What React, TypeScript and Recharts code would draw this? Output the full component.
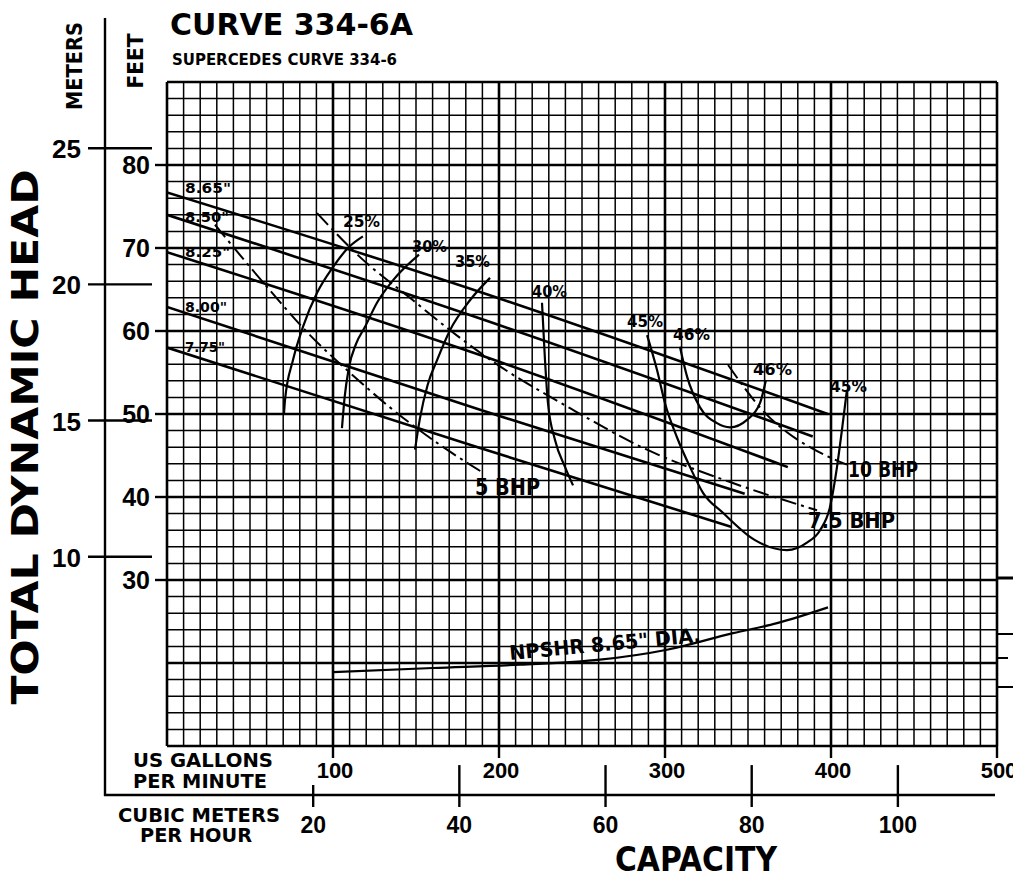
import React from 'react'
import { LineChart, Line, XAxis, YAxis, ReferenceLine } from 'recharts'

const FONT = "'DejaVu Sans', 'Liberation Sans', sans-serif"
const NUM_FONT = "'Liberation Sans', Arial, sans-serif"
const FT_PER_M = 3.2808
const GPM_PER_M3H = 4.4029

// impeller diameter curves, [US gpm, feet]
const dia865 = [[0, 76.7], [188.6, 64.7], [398, 50.0]]
const dia850 = [[0, 74.0], [188.6, 61.5], [389, 47.3]]
const dia825 = [[0, 69.5], [188.6, 57.1], [374, 43.6]]
const dia800 = [[0, 62.9], [188.6, 50.5], [348, 40.4]]
const dia775 = [[0, 58.0], [188.6, 45.9], [340, 36.4]]

// efficiency curves
const eff25 = [[70.5, 50.1], [71.1, 51.7], [75.9, 56.5], [81.9, 60.5], [90.4, 64.6], [100, 67.7], [109, 70.0], [118, 71.4]]
const eff30 = [[105.4, 48.3], [107, 52], [109.5, 55.5], [114, 58.5], [119.3, 60.5], [126.5, 63.4], [136.1, 66.1], [151.8, 69.2]]
const eff35 = [[149.4, 45.7], [152.4, 49.5], [157, 53.5], [162.7, 56.5], [170.5, 60.1], [182.5, 63.7], [194.6, 66.4]]
const eff40 = [[225.9, 63.4], [227.7, 56.5], [229.5, 51.3], [233.7, 46.9], [239.8, 43.6], [244.6, 41.4]]
const eff45 = [[289.2, 59.5], [295.2, 55.3], [300, 51.3], [307.2, 47.2], [315.1, 43.6], [322.9, 40.5], [334.9, 38.1], [354.2, 34.8], [373.5, 33.6], [385.5, 34.5], [393.4, 36.0], [399.4, 38.8], [403.6, 43.6], [406.6, 48.1], [409.6, 52.9]]
const eff46 = [[309, 58.1], [313.3, 54.5], [321.1, 50.8], [331.3, 48.9], [339.2, 48.4], [349.4, 49.3], [357.2, 51.3], [360.8, 54.1]]

// brake horsepower lines
const bhp5 = [[28.9, 72.8], [62, 64.9], [86.1, 59.5], [108.4, 55.3], [134.3, 50.8], [168.7, 45.7], [189.8, 43.0]]
const bhp75 = [[90.4, 74.2], [116.3, 68.9], [148.2, 63.7], [170.5, 60.1], [196.4, 56.3], [242.8, 50.7], [289.2, 45.7], [339.2, 41.8], [391.6, 38.4]]
const bhp10 = [[338, 55.9], [361.4, 49.9], [373.5, 47.8], [387.3, 46.0], [409.6, 43.9]]

// NPSHR 8.65" dia
const npshr = [[100, 18.9], [160.2, 19.4], [212.7, 19.8], [260.8, 20.4], [301.2, 21.6], [341, 23.6], [367.5, 24.8], [398.2, 26.7]]

const gpmTicks = [100, 200, 300, 400, 500]
const m3hTicks = [20, 40, 60, 80, 100]
const feetTicks = [30, 40, 50, 60, 70, 80]
const meterTicks = [10, 15, 20, 25]

const gpmGrid = Array.from({ length: 51 }, (_, i) => i * 10)
const feetGrid = Array.from({ length: 41 }, (_, i) => 10 + i * 2)

// m3/h scale sits below the plot: tick marks span these feet levels
const M3_TICK_TOP = 7.7
const M3_TICK_TOP_SHORT = 5.3
const M3_TICK_BOTTOM = 2.65

const toPts = (arr: number[][]) => arr.map(([x, y]) => ({ x, y }))

const solid = [dia865, dia850, dia825, dia800, dia775]
const effs = [eff25, eff30, eff35, eff40, eff45, eff46, npshr]
const dashed = [bhp5, bhp75, bhp10]

const FeetTick = ({ x, y, payload }: any) => (
  <g>
    <line x1={x - 12} x2={x} y1={y} y2={y} stroke="#000" strokeWidth={2.4} />
    <text x={x - 17} y={y + 9} textAnchor="end" fontSize={25} fontFamily={NUM_FONT} fontWeight="bold">{payload.value}</text>
  </g>
)

const MeterTick = ({ x, y, payload }: any) => (
  <g>
    <line x1={x - 78} x2={x - 14} y1={y} y2={y} stroke="#000" strokeWidth={2.4} />
    <text x={x - 85} y={y + 10} textAnchor="end" fontSize={26} fontFamily={NUM_FONT} fontWeight="bold">{payload.value}</text>
  </g>
)

const GpmTick = ({ x, y, payload }: any) => (
  <g>
    <line x1={x} x2={x} y1={y} y2={y + 12} stroke="#000" strokeWidth={2.4} />
    <text x={x + 2} y={y + 32} textAnchor="middle" fontSize={22} fontFamily={NUM_FONT} fontWeight="bold">{payload.value}</text>
  </g>
)

const M3Label = ({ viewBox, text }: any) => (
  <text x={viewBox.x} y={viewBox.y + viewBox.height + 26} textAnchor="middle" fontSize={23}
    fontFamily={NUM_FONT} fontWeight="bold">{text}</text>
)

const labels = [
  { t: 'CURVE 334-6A', x: 170, y: 35, s: 30, len: 243 },
  { t: 'SUPERCEDES CURVE 334-6', x: 172, y: 65, s: 16, len: 225 },
  { t: 'US GALLONS', x: 133, y: 767, s: 19, len: 140 },
  { t: 'PER MINUTE', x: 133, y: 788, s: 19, len: 134 },
  { t: 'CUBIC METERS', x: 118, y: 822, s: 19, len: 162 },
  { t: 'PER HOUR', x: 140, y: 842, s: 19, len: 112 },
  { t: 'CAPACITY', x: 615, y: 871, s: 34, len: 162 },
  { t: '8.65"', x: 185, y: 193, s: 14, len: 46 },
  { t: '8.50"', x: 185, y: 222, s: 14, len: 44 },
  { t: '8.25"', x: 185, y: 257, s: 14, len: 45 },
  { t: '8.00"', x: 185, y: 312, s: 14, len: 42 },
  { t: '7.75"', x: 185, y: 352, s: 14, len: 40 },
  { t: '25%', x: 343, y: 227, s: 15, len: 37 },
  { t: '30%', x: 412, y: 252, s: 15, len: 35 },
  { t: '35%', x: 455, y: 267, s: 15, len: 35 },
  { t: '40%', x: 532, y: 297, s: 15, len: 35 },
  { t: '45%', x: 627, y: 327, s: 15, len: 36 },
  { t: '46%', x: 673, y: 340, s: 15, len: 37 },
  { t: '46%', x: 753, y: 375, s: 15, len: 39 },
  { t: '45%', x: 830, y: 392, s: 15, len: 37 },
  { t: '5 BHP', x: 475, y: 495, s: 23, len: 65 },
  { t: '10 BHP', x: 848, y: 477, s: 21, len: 70 },
  { t: '7.5 BHP', x: 808, y: 528, s: 22, len: 87 },
  { t: 'F', x: 1014, y: 274, s: 17, len: 0 },
  { t: 'U', x: 1014, y: 294, s: 17, len: 0 },
  { t: 'U', x: 1014, y: 314, s: 17, len: 0 },
  { t: '20', x: 1013, y: 588, s: 26, len: 0 },
  { t: '10', x: 1013, y: 668, s: 26, len: 0 },
]

export default function App() {
  return (
    <div style={{ position: 'relative', width: 1013, height: 868, overflow: 'hidden', background: '#fff' }}>
      {/* inner layer shifted back by the body margin so positions match the full page */}
      <div style={{ position: 'absolute', left: -8, top: -8, width: 1021, height: 876 }}>
        <LineChart width={1021} height={876} margin={{ top: 82, right: 24, bottom: 129, left: 165 }}>
          <XAxis dataKey="x" type="number" domain={[0, 500]} allowDataOverflow ticks={gpmTicks} interval={0}
            height={1} tickSize={0} tickMargin={0} axisLine={false} tickLine={false} tick={<GpmTick />} />
          <YAxis type="number" domain={[10, 90]} allowDataOverflow ticks={feetTicks} interval={0}
            width={1} tickSize={0} tickMargin={0} axisLine={false} tickLine={false} tick={<FeetTick />} />
          <YAxis yAxisId="m" type="number" domain={[10 / FT_PER_M, 90 / FT_PER_M]} allowDataOverflow ticks={meterTicks} interval={0}
            width={1} tickSize={0} tickMargin={0} axisLine={false} tickLine={false} tick={<MeterTick />} />

          {gpmGrid.map(v => (
            <ReferenceLine key={'gx' + v} x={v} stroke="#000" strokeWidth={v % 100 === 0 ? 2.6 : 1.5} />
          ))}
          {feetGrid.map(v => (
            <ReferenceLine key={'gy' + v} y={v} stroke="#000" strokeWidth={v % 10 === 0 ? 2.6 : 1.5} />
          ))}

          {/* cubic metres per hour scale, placed through the gpm scale */}
          {m3hTicks.map(v => (
            <ReferenceLine key={'m3' + v} ifOverflow="visible" stroke="#000" strokeWidth={2.4}
              segment={[
                { x: v * GPM_PER_M3H, y: v === 20 ? M3_TICK_TOP_SHORT : M3_TICK_TOP },
                { x: v * GPM_PER_M3H, y: M3_TICK_BOTTOM },
              ]}
              label={<M3Label text={v} />} />
          ))}

          {solid.map((c, i) => (
            <Line key={'d' + i} data={toPts(c)} dataKey="y" type="monotone" stroke="#000" strokeWidth={2.6}
              dot={false} activeDot={false} isAnimationActive={false} />
          ))}
          {effs.map((c, i) => (
            <Line key={'e' + i} data={toPts(c)} dataKey="y" type="monotone" stroke="#000" strokeWidth={2.2}
              dot={false} activeDot={false} isAnimationActive={false} />
          ))}
          {dashed.map((c, i) => (
            <Line key={'b' + i} data={toPts(c)} dataKey="y" type="monotone" stroke="#000" strokeWidth={2}
              strokeDasharray="16 5 3 5" dot={false} activeDot={false} isAnimationActive={false} />
          ))}
        </LineChart>

        <svg width={1021} height={876} style={{ position: 'absolute', left: 0, top: 0, pointerEvents: 'none' }}>
          {/* outer frame of the meters / cubic-metre scales */}
          <line x1={105} x2={105} y1={18} y2={796} stroke="#000" strokeWidth={2.4} />
          <line x1={104} x2={995} y1={795} y2={795} stroke="#000" strokeWidth={2.4} />
          {/* cut-off NPSH scale on the right */}
          <line x1={997} x2={1021} y1={578} y2={578} stroke="#000" strokeWidth={3} />
          <line x1={997} x2={1021} y1={634} y2={634} stroke="#000" strokeWidth={2} />
          <line x1={997} x2={1008} y1={658} y2={658} stroke="#000" strokeWidth={2} />
          <line x1={997} x2={1021} y1={687} y2={687} stroke="#000" strokeWidth={2} />

          <text transform="translate(38 437) rotate(-90)" textAnchor="middle" fontSize={37} fontFamily={FONT} fontWeight="bold"
            textLength={535} lengthAdjust="spacingAndGlyphs">TOTAL DYNAMIC HEAD</text>
          <text transform="translate(82 66) rotate(-90)" textAnchor="middle" fontSize={21} fontFamily={FONT} fontWeight="bold"
            textLength={88} lengthAdjust="spacingAndGlyphs">METERS</text>
          <text transform="translate(143 61) rotate(-90)" textAnchor="middle" fontSize={21} fontFamily={FONT} fontWeight="bold"
            textLength={55} lengthAdjust="spacingAndGlyphs">FEET</text>
          <text x={0} y={0} transform="translate(510 660) rotate(-5.4)" fontSize={20} fontFamily={FONT} fontWeight="bold"
            textLength={192} lengthAdjust="spacingAndGlyphs">NPSHR 8.65" DIA.</text>
          {labels.map((l, i) => (
            <text key={i} x={l.x} y={l.y} fontSize={l.s} fontFamily={FONT} fontWeight="bold"
              {...(l.len ? { textLength: l.len, lengthAdjust: 'spacingAndGlyphs' } : {})}>{l.t}</text>
          ))}
        </svg>
      </div>
    </div>
  )
}
